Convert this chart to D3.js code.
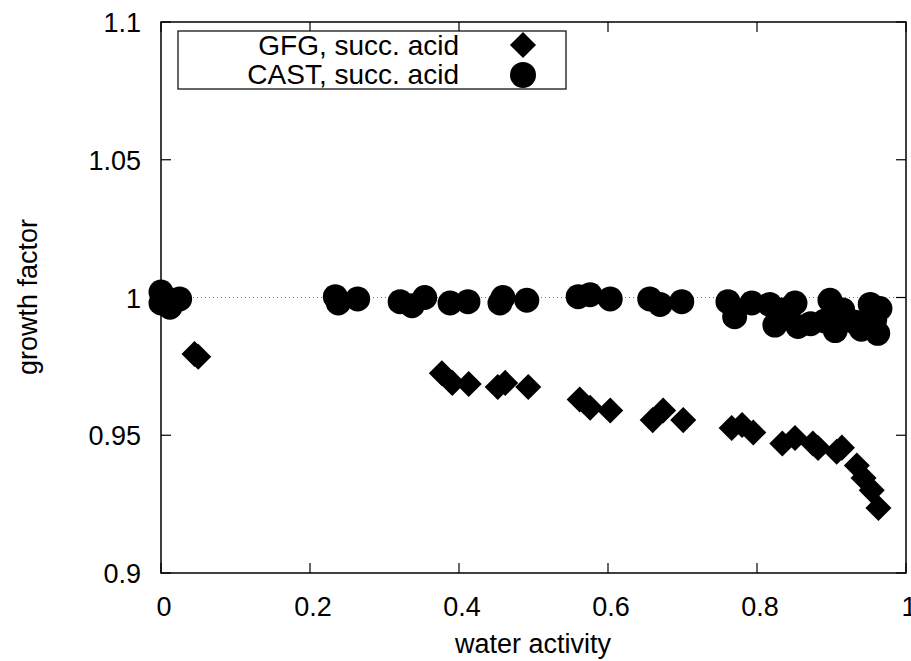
<!DOCTYPE html>
<html>
<head>
<meta charset="utf-8">
<script src="https://cdn.jsdelivr.net/npm/d3@7"></script>
<style>
  body { margin: 0; background: #fff; }
  text { font-family: "Liberation Sans", Arial, sans-serif; fill: #000; }
</style>
</head>
<body>
<svg id="chart" width="911" height="661"></svg>
<script>
// GFG, succ. acid (diamonds)
const gfgAw = [0.045, 0.05, 0.377, 0.391, 0.413, 0.452, 0.462, 0.493, 0.562, 0.576, 0.603,
               0.660, 0.674, 0.701, 0.766, 0.780, 0.795, 0.834, 0.851, 0.875, 0.882,
               0.907, 0.914, 0.934, 0.943, 0.954, 0.963];
const gfgGf = [0.9795, 0.9785, 0.9725, 0.969, 0.9686, 0.9675, 0.969, 0.9675, 0.963, 0.960, 0.959,
               0.9555, 0.959, 0.9555, 0.9526, 0.9537, 0.951, 0.947, 0.949, 0.947, 0.9454,
               0.944, 0.9455, 0.939, 0.9345, 0.930, 0.9236];

// CAST, succ. acid (circles)
const castAw = [0.0, 0.0, 0.012, 0.015, 0.025, 0.234, 0.238, 0.264, 0.321, 0.337, 0.354,
                0.388, 0.412, 0.455, 0.459, 0.491, 0.560, 0.576, 0.603, 0.656, 0.670,
                0.699, 0.761, 0.770, 0.793, 0.817, 0.824, 0.835, 0.851, 0.855, 0.872,
                0.891, 0.898, 0.905, 0.915, 0.932, 0.940, 0.952, 0.962, 0.965, 0.958];
const castGf = [1.002, 0.998, 0.9965, 0.999, 0.9995, 1.0003, 0.998, 0.9995, 0.9985, 0.997, 1.0,
                0.998, 0.9985, 0.998, 1.0, 0.999, 1.0003, 1.001, 0.9995, 0.9995, 0.9975,
                0.9985, 0.9985, 0.993, 0.998, 0.9975, 0.990, 0.9955, 0.998, 0.9895, 0.9905,
                0.9915, 0.999, 0.988, 0.9955, 0.991, 0.9885, 0.9975, 0.987, 0.996, 0.992];

const xTicks = [0, 0.2, 0.4, 0.6, 0.8, 1];
const yTicks = [0.9, 0.95, 1, 1.05, 1.1];
const seriesNames = ["GFG, succ. acid", "CAST, succ. acid"];

const svg = d3.select("#chart");
const x = d3.scaleLinear().domain([0, 1]).range([161, 906]);
const y = d3.scaleLinear().domain([0.9, 1.1]).range([573, 22]);
const fs = "27px";

// dotted reference line at 1
svg.append("line")
   .attr("x1", x(0)).attr("x2", x(1))
   .attr("y1", y(1)).attr("y2", y(1))
   .attr("stroke", "#777").attr("stroke-width", 1)
   .attr("stroke-dasharray", "1,3");

// Diamonds
const diamond = d3.symbol().type(d3.symbolSquare).size(340);
svg.selectAll("path.gfg")
   .data(gfgAw.map((a, i) => [a, gfgGf[i]]))
   .enter().append("path")
     .attr("class", "gfg")
     .attr("d", diamond)
     .attr("transform", d => `translate(${x(d[0])},${y(d[1])}) rotate(45)`)
     .attr("fill", "#000");

// Circles
svg.selectAll("circle.cast")
   .data(castAw.map((a, i) => [a, castGf[i]]))
   .enter().append("circle")
     .attr("class", "cast")
     .attr("cx", d => x(d[0]))
     .attr("cy", d => y(d[1]))
     .attr("r", 12.5)
     .attr("fill", "#000");

// Frame
svg.append("rect")
   .attr("x", x(0)).attr("y", y(1.1))
   .attr("width", x(1) - x(0)).attr("height", y(0.9) - y(1.1))
   .attr("fill", "none").attr("stroke", "#000").attr("stroke-width", 1.5);

// Ticks (inward, mirrored)
const tl = 10;
xTicks.forEach(t => {
  svg.append("line").attr("x1", x(t)).attr("x2", x(t)).attr("y1", y(0.9)).attr("y2", y(0.9) - tl)
     .attr("stroke", "#000").attr("stroke-width", 1.2);
  svg.append("line").attr("x1", x(t)).attr("x2", x(t)).attr("y1", y(1.1)).attr("y2", y(1.1) + tl)
     .attr("stroke", "#000").attr("stroke-width", 1.2);
  svg.append("text")
     .attr("x", x(t) + 3).attr("y", y(0.9) + 43)
     .attr("text-anchor", "middle").style("font-size", fs)
     .text(d3.format("")(t));
});
yTicks.forEach(t => {
  svg.append("line").attr("x1", x(0)).attr("x2", x(0) + tl).attr("y1", y(t)).attr("y2", y(t))
     .attr("stroke", "#000").attr("stroke-width", 1.2);
  svg.append("line").attr("x1", x(1)).attr("x2", x(1) - tl).attr("y1", y(t)).attr("y2", y(t))
     .attr("stroke", "#000").attr("stroke-width", 1.2);
  svg.append("text")
     .attr("x", 141).attr("y", y(t) + 10)
     .attr("text-anchor", "end").style("font-size", fs)
     .text(d3.format("")(t));
});

// Legend
svg.append("rect")
   .attr("x", 178).attr("y", 31).attr("width", 388).attr("height", 58)
   .attr("fill", "#fff").attr("stroke", "#000").attr("stroke-width", 1.2);
svg.append("text").attr("x", 459).attr("y", 55).attr("text-anchor", "end")
   .style("font-size", "28px").text(seriesNames[0]);
svg.append("text").attr("x", 459).attr("y", 84).attr("text-anchor", "end")
   .style("font-size", "28px").text(seriesNames[1]);
svg.append("path").attr("d", diamond)
   .attr("transform", "translate(523,45) rotate(45)").attr("fill", "#000");
svg.append("circle").attr("cx", 523).attr("cy", 75).attr("r", 13).attr("fill", "#000");

// Axis titles
svg.append("text")
   .attr("x", 533).attr("y", 653)
   .attr("text-anchor", "middle").style("font-size", fs)
   .text("water activity");
svg.append("text")
   .attr("transform", "translate(37,297) rotate(-90)")
   .attr("text-anchor", "middle").style("font-size", fs)
   .text("growth factor");
</script>
</body>
</html>
